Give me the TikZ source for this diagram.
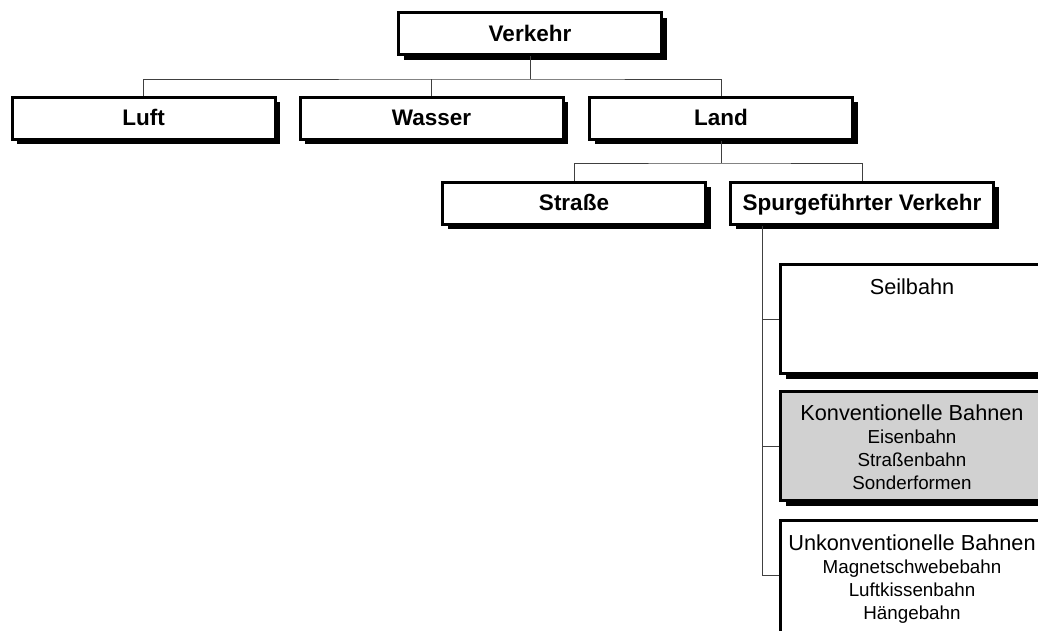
\documentclass[tikz,border=0pt]{standalone}
\usepackage{fontspec}
\setmainfont{Liberation Sans}
\usetikzlibrary{shadows}

\begin{document}
\begin{tikzpicture}[x=1pt, y=-1pt]
    % Define styles
    \tikzset{
        topbox/.style={draw, line width=3pt, fill=white, minimum width=263pt, minimum height=42pt, inner sep=0pt, text height=17pt, text depth=2pt, font=\fontsize{22.5}{24}\selectfont\bfseries, drop shadow={shadow xshift=5pt, shadow yshift=-5pt, fill=black, opacity=1}},
        railbox/.style={draw, line width=3pt, fill=white, minimum width=263pt, minimum height=109pt, inner sep=0pt, drop shadow={shadow xshift=5pt, shadow yshift=-5pt, fill=black, opacity=1}},
        railtext/.style={anchor=north, inner sep=0pt, align=center, font=\fontsize{21.7}{23}\selectfont},
        link/.style={line width=0.9pt, draw=black!75}
    }

    % Page frame
    \useasboundingbox (0,0) rectangle (1038,630);
    \clip (0,0) rectangle (1038,630);

    % Level 1
    \node[topbox] (verkehr) at (530,33.5) {Verkehr};

    % Level 2
    \node[topbox] (luft) at (143.5,118) {Luft};
    \node[topbox] (wasser) at (431.5,118) {Wasser};
    \node[topbox] (land) at (721,118) {Land};

    % Level 3
    \node[topbox] (strasse) at (574,203) {Straße};
    \node[topbox] (spur) at (862,203) {Spurgeführter Verkehr};

    % Level 4: rail systems
    \node[railbox] (seil) at (912,319) {};
    \node[railbox, fill=black!18] (konv) at (912,446) {};
    \node[railbox, minimum height=140pt] (unkonv) at (912,590.5) {};

    \node[railtext] (seiltxt) at ([yshift=-16pt]seil.north) {Seilbahn};
    \node[railtext] (konvtxt) at ([yshift=-15pt]konv.north) {Konventionelle Bahnen\\
        {\fontsize{18.8}{23}\selectfont Eisenbahn}\\
        {\fontsize{18.8}{23}\selectfont Straßenbahn}\\
        {\fontsize{18.8}{23}\selectfont Sonderformen}};
    \node[railtext] (unkonvtxt) at ([yshift=-16pt]unkonv.north) {Unkonventionelle Bahnen\\
        {\fontsize{18.8}{23}\selectfont Magnetschwebebahn}\\
        {\fontsize{18.8}{23}\selectfont Luftkissenbahn}\\
        {\fontsize{18.8}{23}\selectfont Hängebahn}};

    % Connecting lines
    \coordinate (j1) at (530,79);
    \coordinate (j2) at (721,163);
    \coordinate (trunk) at ([xshift=33pt]spur.south west);
    \draw[link] (verkehr.south) -- (j1);
    \draw[link] (luft.north) |- (j1) -| (land.north);
    \draw[link] (wasser.north) -- (wasser.north |- j1);
    \draw[link] (land.south) -- (j2);
    \draw[link] (strasse.north) |- (j2) -| (spur.north);
    \draw[link] (trunk) |- ([yshift=15.5pt]unkonv.west);
    \draw[link] (trunk |- seil.west) -- (seil.west);
    \draw[link] (trunk |- konv.west) -- (konv.west);

\end{tikzpicture}
\end{document}
